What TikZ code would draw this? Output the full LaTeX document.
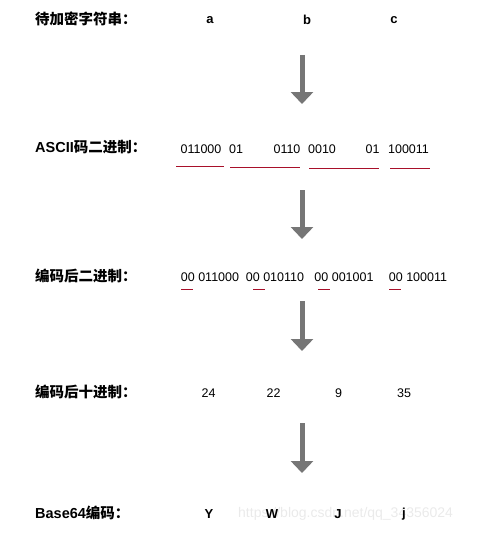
\documentclass[tikz,border=0pt]{standalone}
\usepackage{fontspec}
\setmainfont{Liberation Sans}
\newfontfamily\cjkb{Noto Sans CJK SC Bold}
\usetikzlibrary{arrows.meta}
\definecolor{arrowgray}{HTML}{767676}
\definecolor{ulred}{HTML}{A8102A}
\definecolor{wm}{HTML}{EAEAEA}
\tikzset{
  lbl/.style={anchor=west, inner sep=0pt, font=\fontsize{14.5}{16}\selectfont\bfseries},
  val/.style={anchor=center, inner sep=0pt, font=\fontsize{12.5}{15}\selectfont},
  bval/.style={anchor=center, inner sep=0pt, font=\fontsize{13}{15}\selectfont\bfseries},
  bigarrow/.style={draw=arrowgray, line width=5pt, -{Triangle[width=22pt,length=12pt,fill=arrowgray]}},
  redline/.style={draw=ulred, line width=1.3pt},
}
\begin{document}
\begin{tikzpicture}[x=1pt,y=-1pt]
\useasboundingbox (0,0) rectangle (491,535);
% row 1
\node[lbl] (l1) at (35,19) {\cjkb 待加密字符串：};
\node[bval] (a) at (210,20) {a};
\node[bval] (b) at (307,20) {b};
\node[bval] (c) at (394,20) {c};
% arrow 1
\coordinate (s1) at (302,55);
\coordinate (e1) at (302,104);
\draw[bigarrow] (s1) -- (e1);
% row 2
\node[lbl] (l2) at (35,147) {ASCII\cjkb 码二进制：};
\node[val] (r2a) at (201,149) {011000};
\node[val] (r2b) at (236,149) {01};
\node[val] (r2c) at (287,149) {0110};
\node[val] (r2d) at (322,149) {0010};
\node[val] (r2e) at (372.5,149) {01};
\node[val] (r2f) at (408.5,149) {100011};
\coordinate (u1a) at (176,166.5); \coordinate (u1b) at (224,166.5);
\coordinate (u2a) at (230,167.5); \coordinate (u2b) at (300,167.5);
\coordinate (u3a) at (309,168.5); \coordinate (u3b) at (379,168.5);
\coordinate (u4a) at (390,168.5); \coordinate (u4b) at (430,168.5);
\draw[redline] (u1a) -- (u1b);
\draw[redline] (u2a) -- (u2b);
\draw[redline] (u3a) -- (u3b);
\draw[redline] (u4a) -- (u4b);
% arrow 2
\coordinate (s2) at (302,190);
\coordinate (e2) at (302,239);
\draw[bigarrow] (s2) -- (e2);
% row 3
\node[lbl] (l3) at (35,276) {\cjkb 编码后二进制：};
\node[val] (r3a) at (210,277) {00 011000};
\node[val] (r3b) at (275,277) {00 010110};
\node[val] (r3c) at (344,277) {00 001001};
\node[val] (r3d) at (418,277) {00 100011};
\coordinate (v1a) at (181,289.5); \coordinate (v1b) at (193,289.5);
\coordinate (v2a) at (253,289.5); \coordinate (v2b) at (265,289.5);
\coordinate (v3a) at (318,289.5); \coordinate (v3b) at (330,289.5);
\coordinate (v4a) at (389,289.5); \coordinate (v4b) at (401,289.5);
\draw[redline] (v1a) -- (v1b);
\draw[redline] (v2a) -- (v2b);
\draw[redline] (v3a) -- (v3b);
\draw[redline] (v4a) -- (v4b);
% arrow 3
\coordinate (s3) at (302,301);
\coordinate (e3) at (302,351);
\draw[bigarrow] (s3) -- (e3);
% row 4
\node[lbl] (l4) at (35,392) {\cjkb 编码后十进制：};
\node[val] (d1) at (208.5,393) {24};
\node[val] (d2) at (273.5,393) {22};
\node[val] (d3) at (338.5,393) {9};
\node[val] (d4) at (404,393) {35};
% arrow 4
\coordinate (s4) at (302,423);
\coordinate (e4) at (302,473);
\draw[bigarrow] (s4) -- (e4);
% row 5
\node[anchor=west, inner sep=0pt, text=wm, font=\fontsize{14}{16}\selectfont] (wmk) at (238,514) {https://blog.csdn.net/qq\_34356024};
\node[lbl] (l5) at (35,513) {Base64\cjkb 编码：};
\node[bval] (y1) at (209,514) {Y};
\node[bval] (y2) at (272,514) {W};
\node[bval] (y3) at (338,514) {J};
\node[bval] (y4) at (404,514) {j};
\end{tikzpicture}
\end{document}
